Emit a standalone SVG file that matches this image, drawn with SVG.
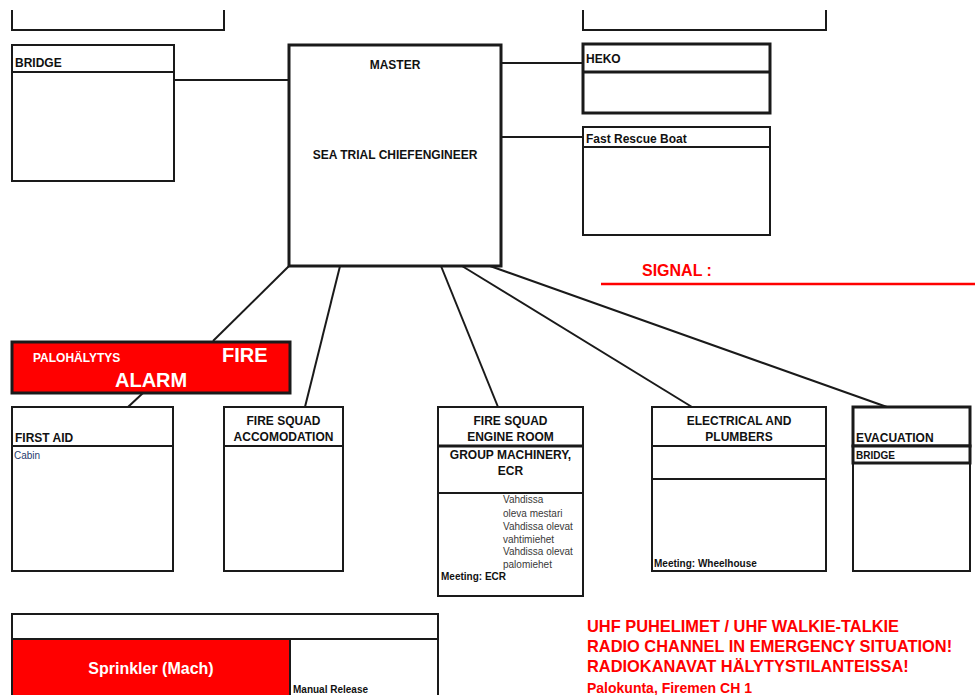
<svg xmlns="http://www.w3.org/2000/svg" width="975" height="695" viewBox="0 0 975 695">
<style>
.b{fill:#fff;stroke:#1a1a1a;stroke-width:2}
.bt{fill:#fff;stroke:#1a1a1a;stroke-width:3}
.ln{stroke:#1a1a1a;stroke-width:2;fill:none}
.h{font-family:"Liberation Sans",Arial,sans-serif;font-weight:bold;font-size:12px;fill:#111}
.c{text-anchor:middle}
.s{font-family:"Liberation Sans",Arial,sans-serif;font-size:10px;fill:#3a3a3a}
.sb{font-family:"Liberation Sans",Arial,sans-serif;font-weight:bold;font-size:10px;fill:#111}
.w{font-family:"Liberation Sans",Arial,sans-serif;font-weight:bold;fill:#fff}
.r{font-family:"Liberation Sans",Arial,sans-serif;font-weight:bold;fill:#ff0000}
</style>
<rect width="975" height="695" fill="#fff"/>
<g id="connectors">
<line class="ln" x1="174" y1="80" x2="289" y2="80"/>
<line class="ln" x1="501" y1="63" x2="583" y2="63"/>
<line class="ln" x1="501" y1="137" x2="583" y2="137"/>
<line class="ln" x1="289" y1="266" x2="213" y2="341"/>
<line class="ln" x1="340" y1="266" x2="305" y2="407"/>
<line class="ln" x1="441" y1="266" x2="498" y2="407"/>
<line class="ln" x1="462" y1="266" x2="692" y2="407"/>
<line class="ln" x1="490" y1="266" x2="887" y2="407"/>
<line class="ln" x1="143" y1="393" x2="128" y2="407"/>
</g>
<g id="top-left-box"><path class="ln" d="M12,10 V30 H224 V10"/></g>
<g id="top-right-box"><path class="ln" d="M583,10 V30 H826 V10"/></g>
<g id="bridge">
<rect class="b" x="12" y="45" width="162" height="136"/>
<line class="ln" x1="12" y1="72" x2="174" y2="72"/>
<text class="h" x="15" y="67">BRIDGE</text>
</g>
<g id="master">
<rect class="bt" x="289" y="45" width="212" height="221"/>
<text class="h c" x="395" y="69">MASTER</text>
<text class="h c" x="395" y="159">SEA TRIAL CHIEFENGINEER</text>
</g>
<g id="heko">
<rect class="bt" x="583" y="44" width="187" height="69"/>
<line class="bt" x1="583" y1="72" x2="770" y2="72"/>
<text class="h" x="586" y="63">HEKO</text>
</g>
<g id="fast-rescue-boat">
<rect class="b" x="583" y="127" width="187" height="108"/>
<line class="ln" x1="583" y1="147" x2="770" y2="147"/>
<text class="h" x="586" y="143">Fast Rescue Boat</text>
</g>
<g id="signal">
<text class="r" x="642" y="276" font-size="16">SIGNAL :</text>
<line x1="601" y1="284" x2="975" y2="284" stroke="#ff0000" stroke-width="2.5"/>
</g>
<g id="fire-alarm">
<rect x="12" y="342" width="278" height="51" fill="#ff0000" stroke="#1a1a1a" stroke-width="3"/>
<text class="w" x="33" y="362" font-size="12">PALOHÄLYTYS</text>
<text class="w" x="222" y="362" font-size="20">FIRE</text>
<text class="w" x="115" y="387" font-size="20">ALARM</text>
</g>
<g id="first-aid">
<rect class="b" x="12" y="407" width="161" height="164"/>
<line class="ln" x1="12" y1="446" x2="173" y2="446"/>
<text class="h" x="15" y="442">FIRST AID</text>
<text class="s" x="14" y="459" font-size="9" style="fill:#1f3b6e">Cabin</text>
</g>
<g id="fire-squad-accomodation">
<rect class="b" x="224" y="407" width="119" height="164"/>
<line class="ln" x1="224" y1="446" x2="343" y2="446"/>
<text class="h c" x="283.5" y="425">FIRE SQUAD</text>
<text class="h c" x="283.5" y="441">ACCOMODATION</text>
</g>
<g id="fire-squad-engine-room">
<rect class="b" x="438" y="407" width="145" height="189"/>
<line class="bt" x1="438" y1="446" x2="583" y2="446"/>
<line class="ln" x1="438" y1="493" x2="583" y2="493"/>
<text class="h c" x="510.5" y="425">FIRE SQUAD</text>
<text class="h c" x="510.5" y="441">ENGINE ROOM</text>
<text class="h c" x="510.5" y="459">GROUP MACHINERY,</text>
<text class="h c" x="510.5" y="475">ECR</text>
<text class="s" x="503" y="503">Vahdissa</text>
<text class="s" x="503" y="517">oleva mestari</text>
<text class="s" x="503" y="530">Vahdissa olevat</text>
<text class="s" x="503" y="543">vahtimiehet</text>
<text class="s" x="503" y="555">Vahdissa olevat</text>
<text class="s" x="503" y="568">palomiehet</text>
<text class="sb" x="441" y="580">Meeting: ECR</text>
</g>
<g id="electrical-and-plumbers">
<rect class="b" x="652" y="407" width="174" height="164"/>
<line class="ln" x1="652" y1="446" x2="826" y2="446"/>
<line class="ln" x1="652" y1="479" x2="826" y2="479"/>
<text class="h c" x="739" y="425">ELECTRICAL AND</text>
<text class="h c" x="739" y="441">PLUMBERS</text>
<text class="sb" x="654" y="567">Meeting: Wheelhouse</text>
</g>
<g id="evacuation">
<rect class="b" x="853" y="407" width="117" height="164"/>
<rect class="bt" x="853" y="407" width="117" height="39"/>
<rect class="bt" x="853" y="446" width="117" height="17"/>
<text class="h" x="856" y="442">EVACUATION</text>
<text class="sb" x="856" y="459">BRIDGE</text>
</g>
<g id="sprinkler">
<path class="b" d="M12,700 V614 H438 V700"/>
<rect x="12" y="639" width="278" height="60" fill="#ff0000"/>
<path class="ln" d="M12,639 H438 M290,639 V700 M12,614 V700"/>
<text class="w c" x="151" y="674" font-size="16">Sprinkler (Mach)</text>
<text class="sb" x="293" y="693">Manual Release</text>
</g>
<g id="radio-note">
<text class="r" x="587" y="632" font-size="16.4">UHF PUHELIMET / UHF WALKIE-TALKIE</text>
<text class="r" x="587" y="652" font-size="16.4">RADIO CHANNEL IN EMERGENCY SITUATION!</text>
<text class="r" x="587" y="672" font-size="16.4">RADIOKANAVAT HÄLYTYSTILANTEISSA!</text>
<text class="r" x="587" y="693" font-size="14">Palokunta, Firemen CH 1</text>
</g>
</svg>
